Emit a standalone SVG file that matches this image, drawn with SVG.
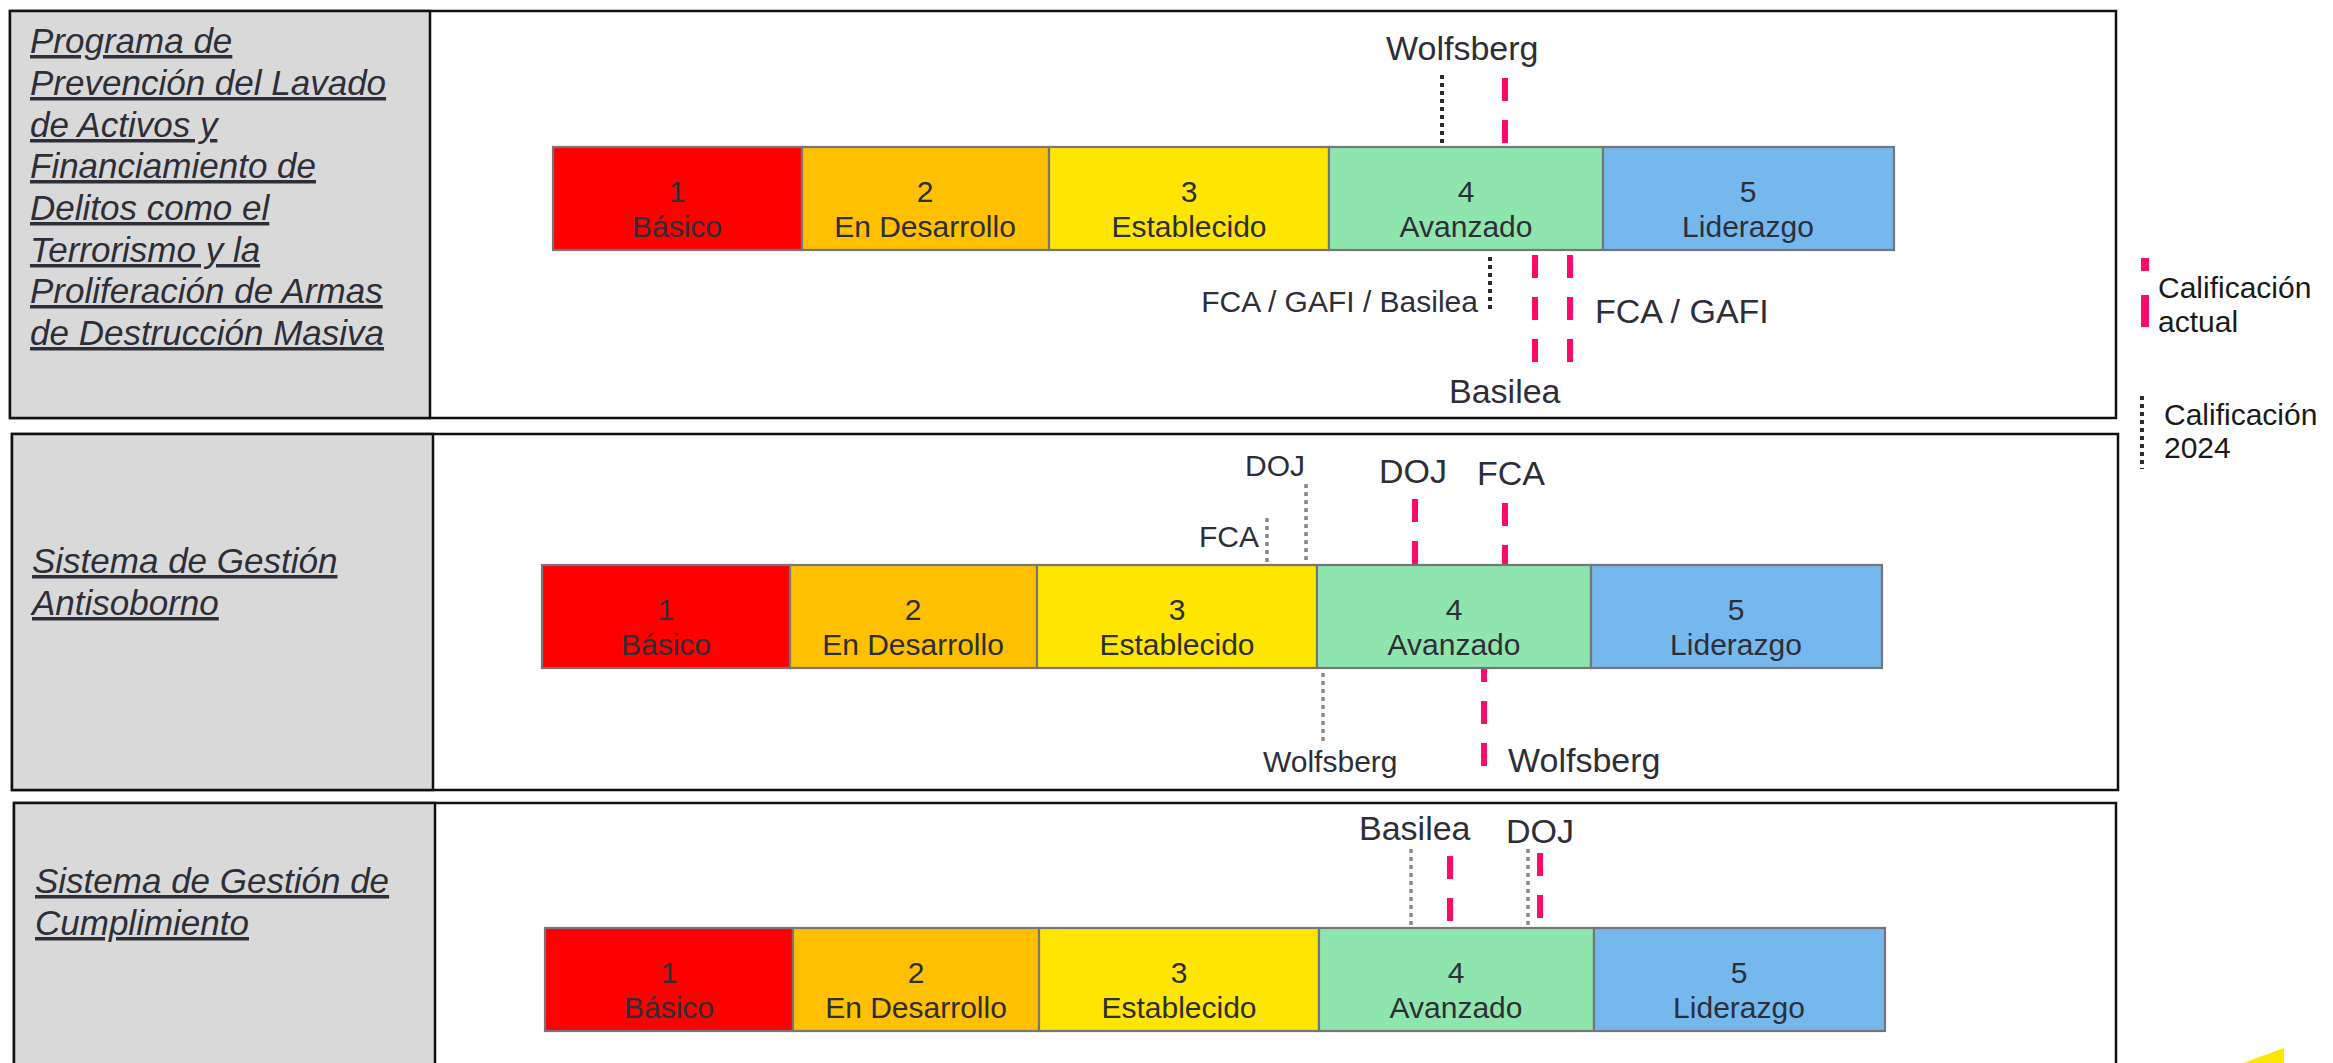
<svg xmlns="http://www.w3.org/2000/svg" width="2333" height="1063" viewBox="0 0 2333 1063">
<style>
text{font-family:"Liberation Sans",Arial,sans-serif;fill:#2e2e38}
.frame{fill:#fff;stroke:#111;stroke-width:2.5}
.side{fill:#d9d9d9;stroke:#111;stroke-width:2.5}
.title{font-size:35px;font-style:italic;text-decoration:underline}
.seg{stroke:#76767a;stroke-width:2.2}
.c1{fill:#ff0000}.c2{fill:#ffc000}.c3{fill:#ffe600}.c4{fill:#8ee6ae}.c5{fill:#75b8ee}
.lv{font-size:30px;text-anchor:middle}
.lg{font-size:34px}
.sm{font-size:30px}
.pink{stroke:#ff0a6b;stroke-width:6;stroke-dasharray:23 19;fill:none}
.dotk{stroke:#2e2e38;stroke-width:4;stroke-dasharray:4 4;fill:none}
.dotg{stroke:#888;stroke-width:3.5;stroke-dasharray:4 4;fill:none}
.leg{font-size:30px;fill:#1a1a1a}
</style>

<g id="panel1">
<rect class="frame" x="10" y="11" width="2106" height="407"/>
<rect class="side" x="10" y="11" width="420" height="407"/>
<text class="title" x="30" y="53">Programa de</text>
<text class="title" x="30" y="95">Prevención del Lavado</text>
<text class="title" x="30" y="137">de Activos y</text>
<text class="title" x="30" y="178">Financiamiento de</text>
<text class="title" x="30" y="220">Delitos como el</text>
<text class="title" x="30" y="262">Terrorismo y la</text>
<text class="title" x="30" y="303">Proliferación de Armas</text>
<text class="title" x="30" y="345">de Destrucción Masiva</text>
</g>

<g id="panel2">
<rect class="frame" x="12" y="434" width="2106" height="356"/>
<rect class="side" x="12" y="434" width="421" height="356"/>
<text class="title" x="32" y="573">Sistema de Gestión</text>
<text class="title" x="32" y="615">Antisoborno</text>
</g>

<g id="panel3">
<rect class="frame" x="14" y="803" width="2102" height="270"/>
<rect class="side" x="14" y="803" width="421" height="270"/>
<text class="title" x="35" y="893">Sistema de Gestión de</text>
<text class="title" x="35" y="935">Cumplimiento</text>
</g>

<g id="connectors">
<line class="dotk" x1="1442" y1="75" x2="1442" y2="148"/>
<line class="pink" x1="1505" y1="78" x2="1505" y2="144"/>
<line class="dotk" x1="1490" y1="257" x2="1490" y2="313"/>
<line class="pink" x1="1535" y1="255" x2="1535" y2="362"/>
<line class="pink" x1="1570" y1="255" x2="1570" y2="362"/>

<line class="dotg" x1="1306" y1="484" x2="1306" y2="565"/>
<line class="dotg" x1="1267" y1="518" x2="1267" y2="565"/>
<line class="pink" x1="1415" y1="499" x2="1415" y2="565"/>
<line class="pink" x1="1505" y1="503" x2="1505" y2="567"/>
<line class="dotg" x1="1323" y1="665" x2="1323" y2="745"/>
<line class="pink" x1="1484" y1="668" x2="1484" y2="766" stroke-dashoffset="9"/>

<line class="dotg" x1="1411" y1="849" x2="1411" y2="928"/>
<line class="pink" x1="1450" y1="856" x2="1450" y2="922"/>
<line class="dotg" x1="1528" y1="849" x2="1528" y2="928"/>
<line class="pink" x1="1540" y1="853" x2="1540" y2="919"/>
</g>

<g id="scale1">
<rect class="seg c1" x="553" y="147" width="249" height="103"/>
<rect class="seg c2" x="802" y="147" width="247" height="103"/>
<rect class="seg c3" x="1049" y="147" width="280" height="103"/>
<rect class="seg c4" x="1329" y="147" width="274" height="103"/>
<rect class="seg c5" x="1603" y="147" width="291" height="103"/>
<text class="lv" x="677" y="202">1</text><text class="lv" x="677" y="237">Básico</text>
<text class="lv" x="925" y="202">2</text><text class="lv" x="925" y="237">En Desarrollo</text>
<text class="lv" x="1189" y="202">3</text><text class="lv" x="1189" y="237">Establecido</text>
<text class="lv" x="1466" y="202">4</text><text class="lv" x="1466" y="237">Avanzado</text>
<text class="lv" x="1748" y="202">5</text><text class="lv" x="1748" y="237">Liderazgo</text>
</g>

<g id="labels1">
<text class="lg" x="1386" y="60">Wolfsberg</text>
<text class="sm" x="1478" y="312" text-anchor="end">FCA / GAFI / Basilea</text>
<text class="lg" x="1595" y="323">FCA / GAFI</text>
<text class="lg" x="1449" y="403">Basilea</text>
</g>

<g id="scale2">
<rect class="seg c1" x="542" y="565" width="248" height="103"/>
<rect class="seg c2" x="790" y="565" width="247" height="103"/>
<rect class="seg c3" x="1037" y="565" width="280" height="103"/>
<rect class="seg c4" x="1317" y="565" width="274" height="103"/>
<rect class="seg c5" x="1591" y="565" width="291" height="103"/>
<text class="lv" x="666" y="620">1</text><text class="lv" x="666" y="655">Básico</text>
<text class="lv" x="913" y="620">2</text><text class="lv" x="913" y="655">En Desarrollo</text>
<text class="lv" x="1177" y="620">3</text><text class="lv" x="1177" y="655">Establecido</text>
<text class="lv" x="1454" y="620">4</text><text class="lv" x="1454" y="655">Avanzado</text>
<text class="lv" x="1736" y="620">5</text><text class="lv" x="1736" y="655">Liderazgo</text>
</g>

<g id="labels2">
<text class="sm" x="1245" y="476">DOJ</text>
<text class="sm" x="1199" y="547">FCA</text>
<text class="lg" x="1379" y="483">DOJ</text>
<text class="lg" x="1477" y="485">FCA</text>
<text class="sm" x="1263" y="772">Wolfsberg</text>
<text class="lg" x="1508" y="772">Wolfsberg</text>
</g>

<g id="scale3">
<rect class="seg c1" x="545" y="928" width="248" height="103"/>
<rect class="seg c2" x="793" y="928" width="246" height="103"/>
<rect class="seg c3" x="1039" y="928" width="280" height="103"/>
<rect class="seg c4" x="1319" y="928" width="275" height="103"/>
<rect class="seg c5" x="1594" y="928" width="291" height="103"/>
<text class="lv" x="669" y="983">1</text><text class="lv" x="669" y="1018">Básico</text>
<text class="lv" x="916" y="983">2</text><text class="lv" x="916" y="1018">En Desarrollo</text>
<text class="lv" x="1179" y="983">3</text><text class="lv" x="1179" y="1018">Establecido</text>
<text class="lv" x="1456" y="983">4</text><text class="lv" x="1456" y="1018">Avanzado</text>
<text class="lv" x="1739" y="983">5</text><text class="lv" x="1739" y="1018">Liderazgo</text>
</g>

<g id="labels3">
<text class="lg" x="1359" y="840">Basilea</text>
<text class="lg" x="1506" y="843">DOJ</text>
</g>

<g id="legend">
<rect x="2141" y="258" width="8" height="13" fill="#ff0a6b"/>
<rect x="2141" y="295" width="8" height="32" fill="#ff0a6b"/>
<text class="leg" x="2158" y="298">Calificación</text>
<text class="leg" x="2158" y="332">actual</text>
<line class="dotk" x1="2142" y1="396" x2="2142" y2="469"/>
<text class="leg" x="2164" y="425">Calificación</text>
<text class="leg" x="2164" y="458">2024</text>
</g>

<polygon points="2243,1063 2284,1048 2284,1063" fill="#ffe600"/>
</svg>
